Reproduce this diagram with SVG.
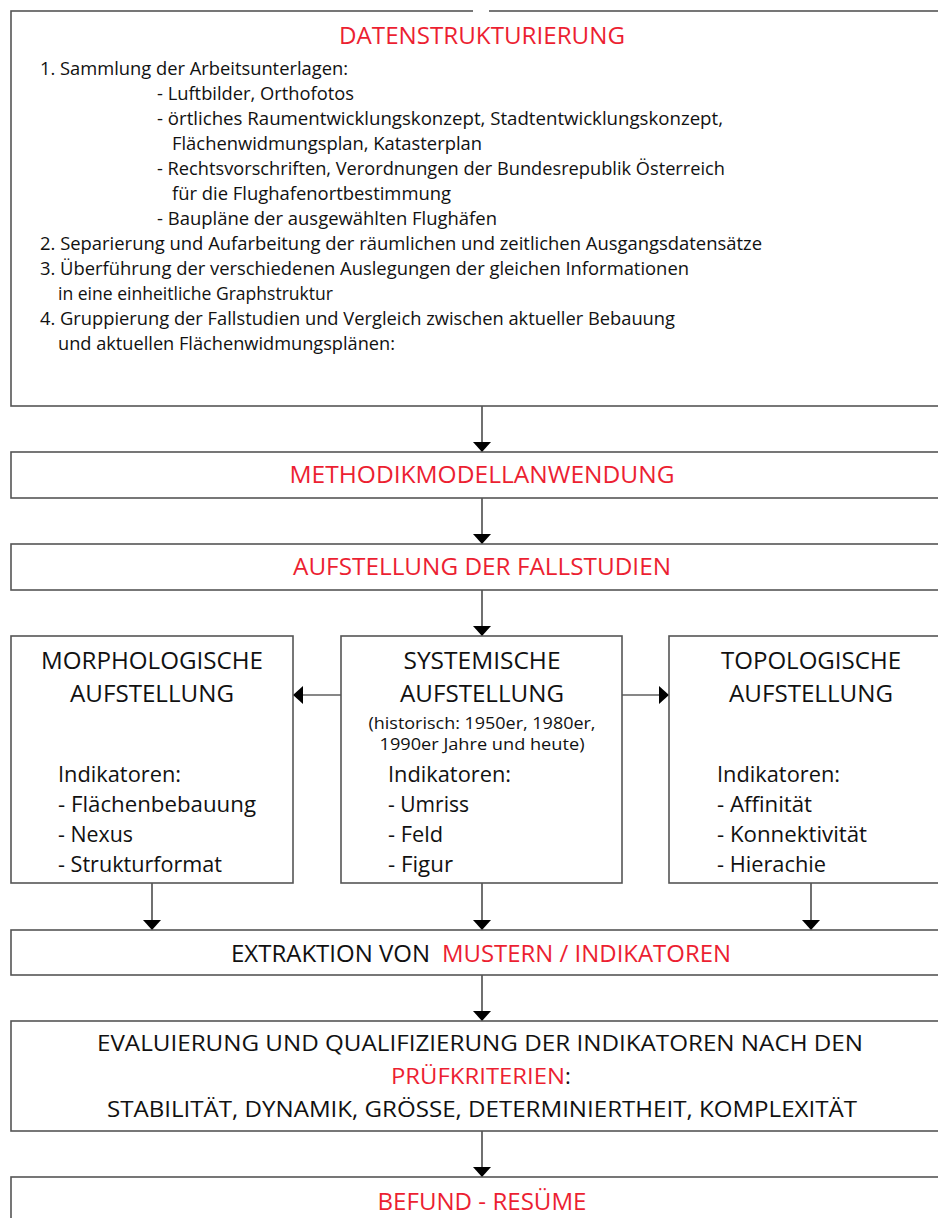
<svg xmlns="http://www.w3.org/2000/svg" width="938" height="1218" viewBox="0 0 938 1218">
<style>
text{font-family:"Open Sans","Noto Sans","Liberation Sans",sans-serif;fill:#111}
.r{fill:#ec1f32}
.box{fill:#fff;stroke:#555;stroke-width:1.6}
.conn{stroke:#111;stroke-width:1.2;fill:none}
.ttl{font-size:24px;text-anchor:middle}
.hd{font-size:23px;text-anchor:middle}
.sm{font-size:18px}
.ind{font-size:21px}
.hist{font-size:16.5px;text-anchor:middle}
.big{font-size:22px}
</style>
<defs>
<marker id="ah" viewBox="0 0 10 18" refX="10" refY="9" markerWidth="10" markerHeight="18" markerUnits="userSpaceOnUse" orient="auto">
<path d="M0,0 L10,9 L0,18 Z" fill="#000"/>
</marker>
</defs>
<rect width="938" height="1218" fill="#fff"/>

<g id="connectors">
<line class="conn" x1="482" y1="406" x2="482" y2="452" marker-end="url(#ah)"/>
<line class="conn" x1="482" y1="498" x2="482" y2="544" marker-end="url(#ah)"/>
<line class="conn" x1="482" y1="590" x2="482" y2="636" marker-end="url(#ah)"/>
<line class="conn" x1="341" y1="695" x2="293" y2="695" marker-end="url(#ah)"/>
<line class="conn" x1="622" y1="695" x2="669" y2="695" marker-end="url(#ah)"/>
<line class="conn" x1="152" y1="883" x2="152" y2="930" marker-end="url(#ah)"/>
<line class="conn" x1="482" y1="883" x2="482" y2="930" marker-end="url(#ah)"/>
<line class="conn" x1="811" y1="883" x2="811" y2="930" marker-end="url(#ah)"/>
<line class="conn" x1="482" y1="975" x2="482" y2="1021" marker-end="url(#ah)"/>
<line class="conn" x1="482" y1="1131" x2="482" y2="1177" marker-end="url(#ah)"/>
</g>

<g id="datenstrukturierung">
<rect class="box" x="11" y="11" width="940" height="395"/>
<line x1="473" y1="11" x2="489" y2="11" stroke="#fff" stroke-width="3"/>
<text class="ttl r" x="482" y="44" textLength="286" lengthAdjust="spacingAndGlyphs">DATENSTRUKTURIERUNG</text>
<text class="sm" x="40" y="75" textLength="308" lengthAdjust="spacingAndGlyphs">1. Sammlung der Arbeitsunterlagen:</text>
<text class="sm" x="157" y="100" textLength="197" lengthAdjust="spacingAndGlyphs">- Luftbilder, Orthofotos</text>
<text class="sm" x="157" y="125" textLength="566" lengthAdjust="spacingAndGlyphs">- örtliches Raumentwicklungskonzept, Stadtentwicklungskonzept,</text>
<text class="sm" x="172" y="150" textLength="310" lengthAdjust="spacingAndGlyphs">Flächenwidmungsplan, Katasterplan</text>
<text class="sm" x="157" y="175" textLength="568" lengthAdjust="spacingAndGlyphs">- Rechtsvorschriften, Verordnungen der Bundesrepublik Österreich</text>
<text class="sm" x="172" y="200" textLength="279" lengthAdjust="spacingAndGlyphs">für die Flughafenortbestimmung</text>
<text class="sm" x="157" y="225" textLength="340" lengthAdjust="spacingAndGlyphs">- Baupläne der ausgewählten Flughäfen</text>
<text class="sm" x="40" y="250" textLength="722" lengthAdjust="spacingAndGlyphs">2. Separierung und Aufarbeitung der räumlichen und zeitlichen Ausgangsdatensätze</text>
<text class="sm" x="40" y="275" textLength="649" lengthAdjust="spacingAndGlyphs">3. Überführung der verschiedenen Auslegungen der gleichen Informationen</text>
<text class="sm" x="58" y="300" textLength="275" lengthAdjust="spacingAndGlyphs">in eine einheitliche Graphstruktur</text>
<text class="sm" x="40" y="325" textLength="635" lengthAdjust="spacingAndGlyphs">4. Gruppierung der Fallstudien und Vergleich zwischen aktueller Bebauung</text>
<text class="sm" x="58" y="350" textLength="337" lengthAdjust="spacingAndGlyphs">und aktuellen Flächenwidmungsplänen:</text>
</g>

<g id="methodik">
<rect class="box" x="11" y="452" width="940" height="46"/>
<text class="ttl r" x="482" y="483" textLength="385" lengthAdjust="spacingAndGlyphs">METHODIKMODELLANWENDUNG</text>
</g>

<g id="fallstudien">
<rect class="box" x="11" y="544" width="940" height="46"/>
<text class="ttl r" x="482" y="575" textLength="378" lengthAdjust="spacingAndGlyphs">AUFSTELLUNG DER FALLSTUDIEN</text>
</g>

<g id="morphologisch">
<rect class="box" x="11" y="636" width="282" height="247"/>
<text class="hd" x="152" y="669" textLength="222" lengthAdjust="spacingAndGlyphs">MORPHOLOGISCHE</text>
<text class="hd" x="152" y="702" textLength="164" lengthAdjust="spacingAndGlyphs">AUFSTELLUNG</text>
<text class="ind" x="58" y="782" textLength="123" lengthAdjust="spacingAndGlyphs">Indikatoren:</text>
<text class="ind" x="58" y="812" textLength="198" lengthAdjust="spacingAndGlyphs">- Flächenbebauung</text>
<text class="ind" x="58" y="842" textLength="75" lengthAdjust="spacingAndGlyphs">- Nexus</text>
<text class="ind" x="58" y="872" textLength="164" lengthAdjust="spacingAndGlyphs">- Strukturformat</text>
</g>

<g id="systemisch">
<rect class="box" x="341" y="636" width="281" height="247"/>
<text class="hd" x="482" y="669" textLength="157" lengthAdjust="spacingAndGlyphs">SYSTEMISCHE</text>
<text class="hd" x="482" y="702" textLength="164" lengthAdjust="spacingAndGlyphs">AUFSTELLUNG</text>
<text class="hist" x="482" y="729" textLength="227" lengthAdjust="spacingAndGlyphs">(historisch: 1950er, 1980er,</text>
<text class="hist" x="482" y="750" textLength="205" lengthAdjust="spacingAndGlyphs">1990er Jahre und heute)</text>
<text class="ind" x="388" y="782" textLength="123" lengthAdjust="spacingAndGlyphs">Indikatoren:</text>
<text class="ind" x="388" y="812" textLength="81" lengthAdjust="spacingAndGlyphs">- Umriss</text>
<text class="ind" x="388" y="842" textLength="55" lengthAdjust="spacingAndGlyphs">- Feld</text>
<text class="ind" x="388" y="872" textLength="65" lengthAdjust="spacingAndGlyphs">- Figur</text>
</g>

<g id="topologisch">
<rect class="box" x="669" y="636" width="282" height="247"/>
<text class="hd" x="811" y="669" textLength="180" lengthAdjust="spacingAndGlyphs">TOPOLOGISCHE</text>
<text class="hd" x="811" y="702" textLength="164" lengthAdjust="spacingAndGlyphs">AUFSTELLUNG</text>
<text class="ind" x="717" y="782" textLength="123" lengthAdjust="spacingAndGlyphs">Indikatoren:</text>
<text class="ind" x="717" y="812" textLength="95" lengthAdjust="spacingAndGlyphs">- Affinität</text>
<text class="ind" x="717" y="842" textLength="150" lengthAdjust="spacingAndGlyphs">- Konnektivität</text>
<text class="ind" x="717" y="872" textLength="109" lengthAdjust="spacingAndGlyphs">- Hierachie</text>
</g>

<g id="extraktion">
<rect class="box" x="11" y="930" width="940" height="45"/>
<text style="font-size:24px" x="231" y="962" textLength="199" lengthAdjust="spacingAndGlyphs">EXTRAKTION VON</text>
<text class="r" style="font-size:24px" x="442" y="962" textLength="289" lengthAdjust="spacingAndGlyphs">MUSTERN / INDIKATOREN</text>
</g>

<g id="evaluierung">
<rect class="box" x="11" y="1021" width="940" height="110"/>
<text class="big" x="97" y="1051" textLength="766" lengthAdjust="spacingAndGlyphs">EVALUIERUNG UND QUALIFIZIERUNG DER INDIKATOREN NACH DEN</text>
<text class="big r" x="391" y="1084" textLength="174" lengthAdjust="spacingAndGlyphs">PRÜFKRITERIEN</text>
<text class="big" x="565" y="1084">:</text>
<text class="big" x="107" y="1117" textLength="750" lengthAdjust="spacingAndGlyphs">STABILITÄT, DYNAMIK, GRÖSSE, DETERMINIERTHEIT, KOMPLEXITÄT</text>
</g>

<g id="befund">
<rect class="box" x="11" y="1177" width="940" height="60"/>
<text class="ttl r" x="482" y="1210" textLength="209" lengthAdjust="spacingAndGlyphs">BEFUND - RESÜME</text>
</g>
</svg>
